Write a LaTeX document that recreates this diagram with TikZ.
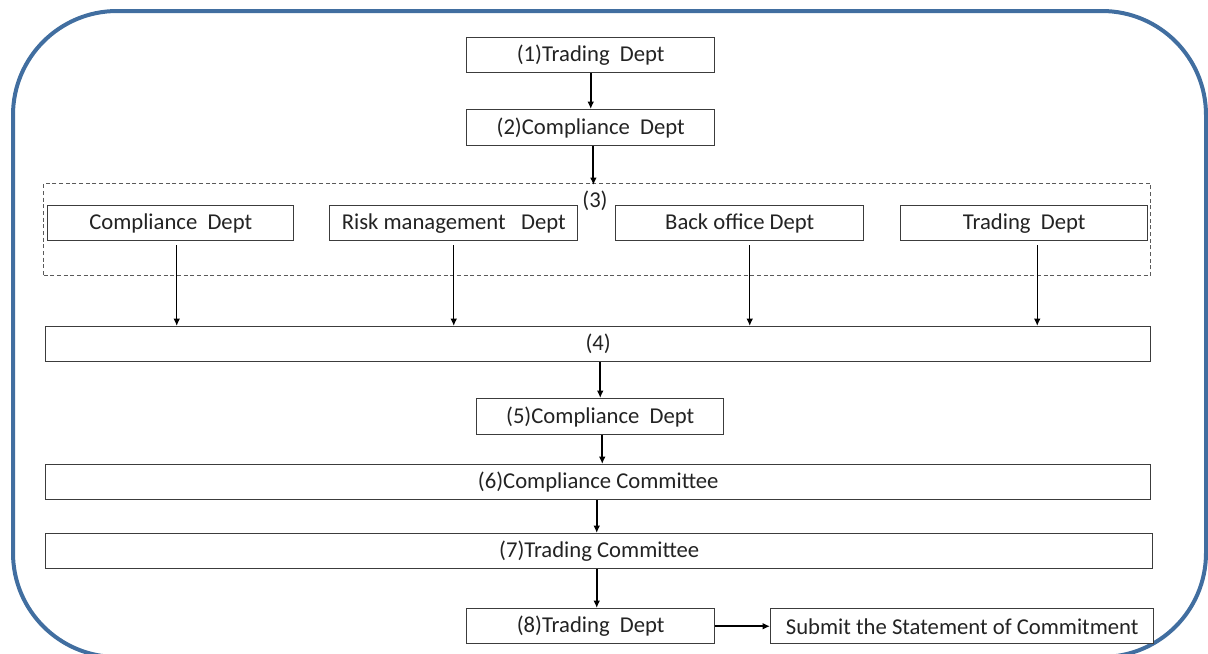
\documentclass[tikz,border=0pt]{standalone}
\usepackage{fontspec}
\setmainfont{Carlito}
\usetikzlibrary{arrows.meta}

\tikzset{every picture/.style={line width=0.75pt}}
\tikzset{
  box/.style={draw={rgb, 255:red, 60; green, 60; blue, 60 },line width=1.1pt,fill=white,inner sep=0pt,anchor=north west,align=center,text={rgb, 255:red, 35; green, 35; blue, 35 },font=\fontsize{17}{19}\selectfont},
  arr/.style={-{Latex[length=5.5pt,width=5pt]},line width=1.4pt,black},
}

\begin{document}
\begin{tikzpicture}[x=0.75pt,y=0.75pt,yscale=-1,xscale=1]
\useasboundingbox (0,0) rectangle (1208,654);

%Rounded Rect [id:frame]
\begin{scope}
\clip (0,0) rectangle (1208,654);
\draw [color={rgb, 255:red, 65; green, 110; blue, 160 },line width=3pt,rounded corners=78pt] (13,11) rectangle (1206,657);
\end{scope}

%Shape: Rectangle [id:dashed group]
\draw (43,183) node [draw={rgb, 255:red, 90; green, 90; blue, 90 },dash pattern={on 3pt off 2pt},line width=1pt,inner sep=0pt,anchor=north west,minimum width=830.25pt,minimum height=69pt] (grp) {};

% Text Node
\draw (466,37) node [box,minimum width=186pt,minimum height=26.25pt] (n1) {(1)Trading\ \ Dept};
% Text Node
\draw (466,109) node [box,minimum width=186pt,minimum height=27pt] (n2) {(2)Compliance\ \ Dept};
% Text Node
\draw (595,201) node [inner sep=0pt,text={rgb, 255:red, 35; green, 35; blue, 35 },font=\fontsize{17}{19}\selectfont] (lbl3) {(3)};
% Text Node
\draw (47,205) node [box,minimum width=184.5pt,minimum height=26.25pt] (d1) {Compliance\ \ Dept};
% Text Node
\draw (329,205) node [box,minimum width=186pt,minimum height=26.25pt] (d2) {Risk management\ \ \ Dept};
% Text Node
\draw (615,205) node [box,minimum width=186pt,minimum height=26.25pt] (d3) {Back office Dept};
% Text Node
\draw (900,205) node [box,minimum width=185.25pt,minimum height=26.25pt] (d4) {Trading\ \ Dept};
% Text Node
\draw (45,326) node [box,minimum width=828.75pt,minimum height=26.25pt] (n4) {(4)};
% Text Node
\draw (476,398) node [box,minimum width=185.25pt,minimum height=27pt] (n5) {(5)Compliance\ \ Dept};
% Text Node
\draw (45,464) node [box,minimum width=828.75pt,minimum height=26.25pt] (n6) {(6)Compliance Committee};
% Text Node
\draw (45,533) node [box,minimum width=830.25pt,minimum height=26.25pt] (n7) {(7)Trading Committee};
% Text Node
\draw (466,608) node [box,minimum width=186pt,minimum height=26.25pt] (n8) {(8)Trading\ \ Dept};
% Text Node
\draw (770,608) node [box,minimum width=287.25pt,minimum height=26.25pt] (sub) {Submit the Statement of Commitment};

%Straight Lines
\draw [arr] (n1.south) -- (n2.north);
\draw [arr] ([xshift=2pt]n2.south) -- ([xshift=2pt,yshift=1.5pt]n2.south |- grp.north);
\draw [arr,line width=1.1pt,shorten <=3pt] ([xshift=4.5pt]d1.south) -- ([xshift=4.5pt]d1.south |- n4.north);
\draw [arr,line width=1.1pt,shorten <=3pt] (d2.south) -- (d2.south |- n4.north);
\draw [arr,line width=1.1pt,shorten <=3pt] ([xshift=7.5pt]d3.south) -- ([xshift=7.5pt]d3.south |- n4.north);
\draw [arr,line width=1.1pt,shorten <=3pt] ([xshift=9.75pt]d4.south) -- ([xshift=9.75pt]d4.south |- n4.north);
\draw [arr] (n4.south -| n5.north) -- (n5.north);
\draw [arr] ([xshift=1.5pt]n5.south) -- ([xshift=1.5pt]n5.south |- n6.north);
\draw [arr] ([xshift=4.5pt]n6.south -| n8.north) -- ([xshift=4.5pt]n8.north |- n7.north);
\draw [arr] ([xshift=4.5pt]n7.south -| n8.north) -- ([xshift=4.5pt]n8.north);
\draw [arr] (n8.east) -- (sub.west);

\end{tikzpicture}
\end{document}
